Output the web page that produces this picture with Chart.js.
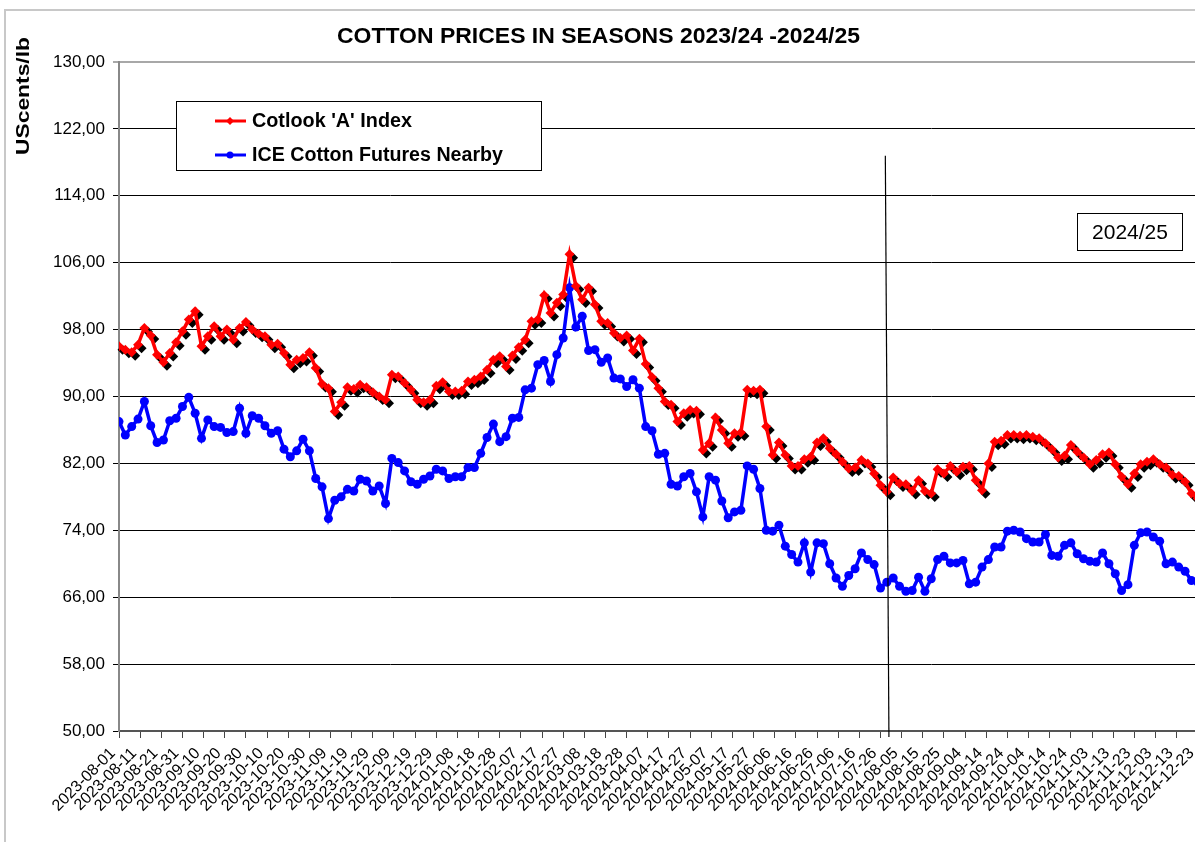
<!DOCTYPE html>
<html>
<head>
<meta charset="utf-8">
<script src="https://cdn.jsdelivr.net/npm/chart.js@4.4.1/dist/chart.umd.min.js"></script>
<style>
  html, body { margin: 0; padding: 0; background: #fff; overflow: hidden; }
  #wrap { position: relative; width: 1216px; height: 842px; }
</style>
</head>
<body>
<div id="wrap"><canvas id="chart"></canvas></div>
<script>
// every third day from 2023-08-01
const startDate = '2023-08-01';
const dates = [
  '2023-08-01','2023-08-04','2023-08-07','2023-08-10','2023-08-13','2023-08-16','2023-08-19','2023-08-22','2023-08-25','2023-08-28',
  '2023-08-31','2023-09-03','2023-09-06','2023-09-09','2023-09-12','2023-09-15','2023-09-18','2023-09-21','2023-09-24','2023-09-27',
  '2023-09-30','2023-10-03','2023-10-06','2023-10-09','2023-10-12','2023-10-15','2023-10-18','2023-10-21','2023-10-24','2023-10-27',
  '2023-10-30','2023-11-02','2023-11-05','2023-11-08','2023-11-11','2023-11-14','2023-11-17','2023-11-20','2023-11-23','2023-11-26',
  '2023-11-29','2023-12-02','2023-12-05','2023-12-08','2023-12-11','2023-12-14','2023-12-17','2023-12-20','2023-12-23','2023-12-26',
  '2023-12-29','2024-01-01','2024-01-04','2024-01-07','2024-01-10','2024-01-13','2024-01-16','2024-01-19','2024-01-22','2024-01-25',
  '2024-01-28','2024-01-31','2024-02-03','2024-02-06','2024-02-09','2024-02-12','2024-02-15','2024-02-18','2024-02-21','2024-02-24',
  '2024-02-27','2024-03-01','2024-03-04','2024-03-07','2024-03-10','2024-03-13','2024-03-16','2024-03-19','2024-03-22','2024-03-25',
  '2024-03-28','2024-03-31','2024-04-03','2024-04-06','2024-04-09','2024-04-12','2024-04-15','2024-04-18','2024-04-21','2024-04-24',
  '2024-04-27','2024-04-30','2024-05-03','2024-05-06','2024-05-09','2024-05-12','2024-05-15','2024-05-18','2024-05-21','2024-05-24',
  '2024-05-27','2024-05-30','2024-06-02','2024-06-05','2024-06-08','2024-06-11','2024-06-14','2024-06-17','2024-06-20','2024-06-23',
  '2024-06-26','2024-06-29','2024-07-02','2024-07-05','2024-07-08','2024-07-11','2024-07-14','2024-07-17','2024-07-20','2024-07-23',
  '2024-07-26','2024-07-29','2024-08-01','2024-08-04','2024-08-07','2024-08-10','2024-08-13','2024-08-16','2024-08-19','2024-08-22',
  '2024-08-25','2024-08-28','2024-08-31','2024-09-03','2024-09-06','2024-09-09','2024-09-12','2024-09-15','2024-09-18','2024-09-21',
  '2024-09-24','2024-09-27','2024-09-30','2024-10-03','2024-10-06','2024-10-09','2024-10-12','2024-10-15','2024-10-18','2024-10-21',
  '2024-10-24','2024-10-27','2024-10-30','2024-11-02','2024-11-05','2024-11-08','2024-11-11','2024-11-14','2024-11-17','2024-11-20',
  '2024-11-23','2024-11-26','2024-11-29','2024-12-02','2024-12-05','2024-12-08','2024-12-11','2024-12-14','2024-12-17','2024-12-20',
  '2024-12-23'
];

const cotlookA = [
  96.0, 95.6, 95.3, 96.2, 98.2, 97.3, 95.0, 94.1, 95.2, 96.5,
  97.8, 99.2, 100.2, 96.0, 97.2, 98.4, 97.2, 98.0, 96.8, 98.2,
  98.9, 98.0, 97.5, 97.2, 96.2, 96.3, 95.2, 93.8, 94.4, 94.6,
  95.3, 93.4, 91.5, 91.0, 88.2, 89.3, 91.1, 90.9, 91.4, 91.1,
  90.5, 90.0, 89.6, 92.6, 92.4, 91.6, 90.8, 89.6, 89.3, 89.6,
  91.3, 91.7, 90.6, 90.6, 90.7, 91.8, 92.0, 92.4, 93.2, 94.4,
  94.8, 93.6, 94.9, 95.9, 96.8, 99.0, 99.2, 102.1, 100.0, 101.2,
  102.2, 107.0, 103.2, 101.6, 103.0, 101.0, 99.0, 98.8, 97.6, 97.0,
  97.3, 95.5, 96.9, 93.9, 92.3, 91.0, 89.4, 89.0, 87.0, 88.0,
  88.4, 88.3, 83.6, 84.4, 87.5, 86.0, 84.4, 85.6, 85.7, 90.8,
  90.7, 90.8, 86.4, 83.0, 84.5, 83.0, 81.7, 81.7, 82.5, 82.8,
  84.5, 85.0, 83.8, 83.1, 82.2, 81.4, 81.5, 82.4, 82.0, 80.8,
  79.4, 78.6, 80.3, 79.6, 79.5, 78.7, 80.0, 78.7, 78.4, 81.3,
  80.8, 81.7, 81.0, 81.6, 81.7, 80.0, 78.8, 82.0, 84.6, 84.7,
  85.4, 85.4, 85.3, 85.4, 85.2, 85.0, 84.4, 83.7, 82.7, 82.9,
  84.2, 83.4, 82.7, 81.9, 82.4, 83.1, 83.3, 81.9, 80.4, 79.5,
  80.8, 81.9, 82.2, 82.5, 81.9, 81.5, 80.6, 80.5, 79.8, 78.4,
  77.8
];

const iceNearby = [
  87.0, 85.4, 86.4, 87.3, 89.4, 86.5, 84.5, 84.8, 87.1, 87.4,
  88.8, 89.9, 88.0, 85.0, 87.2, 86.4, 86.3, 85.7, 85.8, 88.6,
  85.6, 87.7, 87.4, 86.5, 85.6, 85.9, 83.7, 82.8, 83.5, 84.9,
  83.5, 80.2, 79.2, 75.4, 77.6, 78.0, 78.9, 78.7, 80.1, 79.9,
  78.7, 79.3, 77.2, 82.6, 82.1, 81.1, 79.8, 79.5, 80.1, 80.5,
  81.3, 81.1, 80.2, 80.4, 80.4, 81.5, 81.5, 83.2, 85.1, 86.7,
  84.6, 85.2, 87.4, 87.5, 90.8, 91.0, 93.8, 94.3, 91.8, 95.0,
  97.0, 103.0, 98.3, 99.6, 95.5, 95.6, 94.1, 94.6, 92.2, 92.1,
  91.2, 92.0, 91.0, 86.4, 85.9, 83.1, 83.2, 79.5, 79.3, 80.4,
  80.8, 78.6, 75.6, 80.4, 80.0, 77.5, 75.5, 76.2, 76.4, 81.7,
  81.3, 79.0, 74.0, 73.9, 74.6, 72.1, 71.1, 70.2, 72.5, 69.0,
  72.5, 72.4, 70.0, 68.3, 67.3, 68.6, 69.4, 71.3, 70.5, 69.9,
  67.1, 67.8, 68.3, 67.3, 66.7, 66.8, 68.4, 66.7, 68.2, 70.5,
  70.9, 70.1, 70.1, 70.4, 67.6, 67.8, 69.6, 70.5, 72.0, 72.0,
  73.9, 74.0, 73.8, 73.0, 72.6, 72.6, 73.5, 71.0, 70.9, 72.2,
  72.5, 71.2, 70.6, 70.3, 70.2, 71.3, 70.0, 68.8, 66.8, 67.5,
  72.2, 73.7, 73.8, 73.2, 72.7, 70.0, 70.2, 69.6, 69.1, 68.0,
  67.8
];

const seriesNames = ["Cotlook 'A' Index", 'ICE Cotton Futures Nearby'];
const chartTitle = 'COTTON PRICES IN SEASONS 2023/24 -2024/25';
const yTitle = 'UScents/lb';
const seasonLabel = '2024/25';
const seasonSplit = ['2024-07-29', '2024-07-30'];   // divider leans slightly
const dividerTop = 118.8;

const DAY = 86400000;
const t0 = Date.parse(startDate);
const dayOf = s => Math.round((Date.parse(s) - t0) / DAY);
const dateOf = d => new Date(t0 + d * DAY).toISOString().slice(0, 10);

const FONT = "'Liberation Sans', Arial, sans-serif";

function diamond(ctx, x, y, r) {
  ctx.beginPath();
  ctx.moveTo(x, y - r);
  ctx.lineTo(x + r, y);
  ctx.lineTo(x, y + r);
  ctx.lineTo(x - r, y);
  ctx.closePath();
  ctx.fill();
}

// text stretched along its own direction to match the reference width
function stretchText(ctx, text, x, y, width) {
  const w = ctx.measureText(text).width;
  ctx.save();
  ctx.translate(x, y);
  ctx.scale(width / w, 1);
  ctx.fillText(text, 0, 0);
  ctx.restore();
}

const decor = {
  id: 'decor',
  beforeDraw(chart) {
    const { ctx, width, height } = chart;
    ctx.save();
    ctx.fillStyle = '#fff';
    ctx.fillRect(0, 0, width, height);
    ctx.strokeStyle = '#c8c8c8';
    ctx.lineWidth = 2;
    ctx.strokeRect(5, 10, width + 40, height + 40);
    ctx.restore();
  },
  beforeDatasetsDraw(chart) {
    // black drop shadow under the Cotlook markers
    const ctx = chart.ctx;
    ctx.save();
    ctx.fillStyle = '#000';
    chart.getDatasetMeta(0).data.forEach(p => diamond(ctx, p.x + 3.5, p.y + 3.5, 5));
    ctx.restore();
  },
  afterDatasetsDraw(chart) {
    const { ctx, scales: { x, y }, chartArea } = chart;
    ctx.save();
    ctx.strokeStyle = '#000';
    ctx.lineWidth = 1.2;
    ctx.beginPath();
    ctx.moveTo(x.getPixelForValue(dayOf(seasonSplit[0])) - 1.5, y.getPixelForValue(dividerTop));
    ctx.lineTo(x.getPixelForValue(dayOf(seasonSplit[1])), chartArea.bottom + 6);
    ctx.stroke();
    ctx.restore();
  },
  afterDraw(chart) {
    const ctx = chart.ctx;
    ctx.save();
    ctx.fillStyle = '#000';
    ctx.textBaseline = 'middle';

    // title
    ctx.font = `bold 22px ${FONT}`;
    ctx.textAlign = 'left';
    stretchText(ctx, chartTitle, 337, 37, 523);

    // y axis title
    ctx.save();
    ctx.translate(24, 155);
    ctx.rotate(-Math.PI / 2);
    ctx.font = `bold 19px ${FONT}`;
    stretchText(ctx, yTitle, 0, 0, 118);
    ctx.restore();

    // legend
    ctx.fillStyle = '#fff';
    ctx.fillRect(176, 101, 365, 69);
    ctx.strokeStyle = '#000';
    ctx.lineWidth = 1;
    ctx.strokeRect(176.5, 101.5, 365, 69);
    const legendWidths = [160, 251];
    chart.data.datasets.forEach((ds, i) => {
      const ly = 121 + i * 34;
      ctx.strokeStyle = ds.borderColor;
      ctx.lineWidth = 3;
      ctx.beginPath();
      ctx.moveTo(215, ly);
      ctx.lineTo(246, ly);
      ctx.stroke();
      ctx.fillStyle = ds.borderColor;
      if (i === 0) {
        diamond(ctx, 230, ly, 4);
      } else {
        ctx.beginPath();
        ctx.arc(230, ly, 3.5, 0, Math.PI * 2);
        ctx.fill();
      }
      ctx.fillStyle = '#000';
      ctx.font = `bold 19.5px ${FONT}`;
      ctx.textAlign = 'left';
      stretchText(ctx, ds.label, 252, ly + 1, legendWidths[i]);
    });

    // season box
    ctx.fillStyle = '#fff';
    ctx.fillRect(1077, 213, 105, 37);
    ctx.strokeStyle = '#000';
    ctx.lineWidth = 1;
    ctx.strokeRect(1077.5, 213.5, 105, 37);
    ctx.fillStyle = '#000';
    ctx.font = `21px ${FONT}`;
    ctx.textAlign = 'center';
    ctx.fillText(seasonLabel, 1130, 233);
    ctx.restore();
  }
};

const toPoints = vals => vals.map((v, i) => ({ x: dayOf(dates[i]), y: v }));

new Chart(document.getElementById('chart'), {
  type: 'line',
  data: {
    datasets: [
      {
        label: seriesNames[0],
        data: toPoints(cotlookA),
        borderColor: '#ff0000',
        backgroundColor: '#ff0000',
        borderWidth: 3.5,
        pointStyle: 'rectRot',
        pointRadius: 5,
        pointBorderWidth: 0,
        pointBackgroundColor: '#ff0000',
        tension: 0
      },
      {
        label: seriesNames[1],
        data: toPoints(iceNearby),
        borderColor: '#0000ff',
        backgroundColor: '#0000ff',
        borderWidth: 3.5,
        pointStyle: 'circle',
        pointRadius: 4.5,
        pointBorderWidth: 0,
        pointBackgroundColor: '#0000ff',
        tension: 0
      }
    ]
  },
  options: {
    responsive: true,
    maintainAspectRatio: false,
    animation: false,
    events: [],
    layout: { padding: { top: 62, left: 0, right: 14, bottom: 0 } },
    plugins: {
      legend: { display: false },
      title: { display: false },
      tooltip: { enabled: false }
    },
    scales: {
      x: {
        type: 'linear',
        min: 0,
        max: 512,
        afterFit(scale) {
          scale.height = 111;
          scale.paddingLeft = 0;
          scale.paddingRight = 0;
        },
        border: { color: '#555', width: 2 },
        grid: { drawOnChartArea: false, drawTicks: true, tickLength: 7, color: '#444' },
        ticks: {
          stepSize: 10,
          includeBounds: false,
          autoSkip: false,
          minRotation: 45,
          maxRotation: 45,
          padding: 6,
          labelOffset: -6,
          color: '#000',
          font: { family: FONT, size: 16 },
          callback: v => dateOf(v)
        }
      },
      y: {
        min: 50,
        max: 130,
        afterFit(scale) { scale.width = 119; },
        border: { color: '#888', width: 2 },
        grid: {
          color: c => (c.tick && c.tick.value === 130 ? '#a8a8a8' : '#000'),
          lineWidth: c => (c.tick && c.tick.value === 130 ? 2 : 1),
          tickLength: 6,
          drawTicks: true
        },
        ticks: {
          stepSize: 8,
          padding: 8,
          color: '#000',
          font: { family: FONT, size: 17 },
          callback: v => v.toFixed(2).replace('.', ',')
        }
      }
    }
  },
  plugins: [decor]
});
</script>
</body>
</html>
